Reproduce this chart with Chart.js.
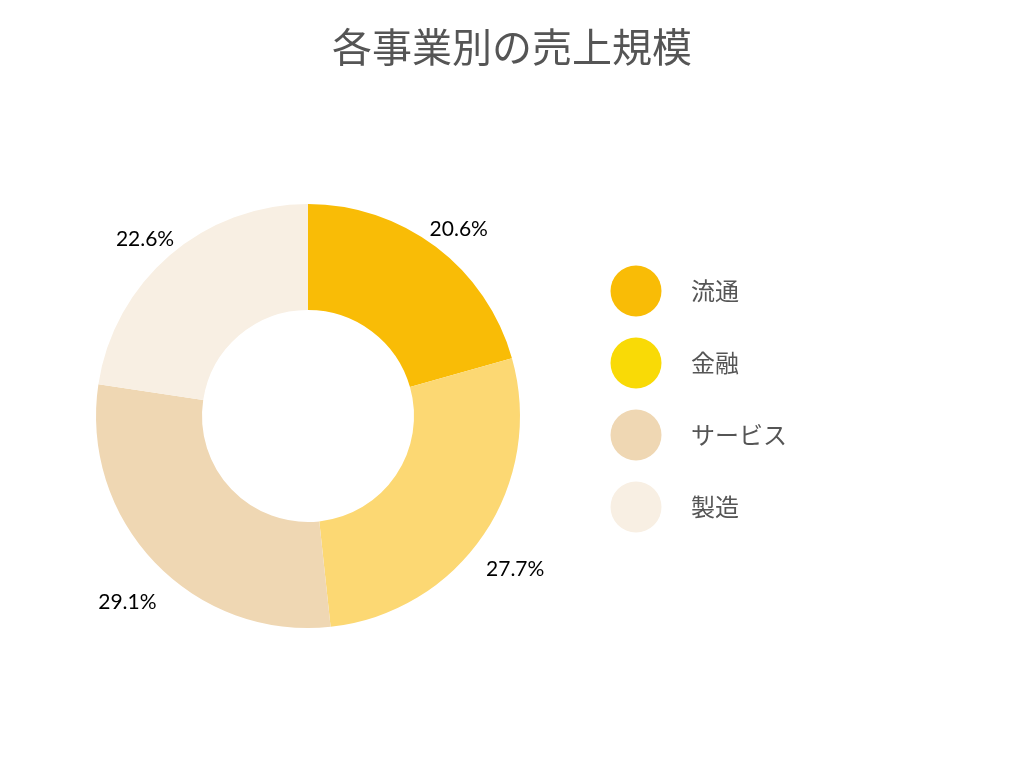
<!DOCTYPE html>
<html>
<head>
<meta charset="utf-8">
<script src="https://cdn.jsdelivr.net/npm/chart.js@4"></script>
<style>
  html, body { margin: 0; padding: 0; background: #fff; }
  #wrap { width: 1024px; height: 768px; }
</style>
</head>
<body>
<div id="wrap"><canvas id="chart" width="1024" height="768"></canvas></div>
<script>
const categories = ["流通", "金融", "サービス", "製造"];
const shares = [20.6, 27.7, 29.1, 22.6];
const sliceColors = ["#F9BC06", "#FCD873", "#EFD7B3", "#F8EFE3"];
const legendColors = ["#F9BC06", "#F9DA06", "#EFD7B3", "#F8EFE3"];
const chartTitle = "各事業別の売上規模";

const FONT = "'Noto Sans CJK JP', 'Noto Sans', sans-serif";

// title centred on the whole canvas
const pageTitle = {
  id: "pageTitle",
  afterDraw(chart) {
    const ctx = chart.ctx;
    ctx.save();
    ctx.font = "40px " + FONT;
    ctx.fillStyle = "#555";
    ctx.textAlign = "center";
    ctx.textBaseline = "middle";
    ctx.fillText(chartTitle, chart.width / 2, 47);
    ctx.restore();
  }
};

// percentage labels outside each slice
const sliceLabels = {
  id: "sliceLabels",
  afterDatasetsDraw(chart) {
    const ctx = chart.ctx;
    const meta = chart.getDatasetMeta(0);
    ctx.save();
    ctx.font = "21px Lato, sans-serif";
    ctx.fillStyle = "#000";
    ctx.textAlign = "center";
    ctx.textBaseline = "middle";
    meta.data.forEach((arc, i) => {
      const p = arc.getProps(["x", "y", "startAngle", "endAngle", "outerRadius"], true);
      const mid = (p.startAngle + p.endAngle) / 2;
      const r = p.outerRadius + 38;
      ctx.fillText(shares[i].toFixed(1) + "%", p.x + Math.cos(mid) * r, p.y + Math.sin(mid) * r + 13);
    });
    ctx.restore();
  }
};

// legend with large circles on the right
const bigLegend = {
  id: "bigLegend",
  afterDraw(chart) {
    const ctx = chart.ctx;
    ctx.save();
    ctx.font = "24px " + FONT;
    ctx.textBaseline = "middle";
    ctx.textAlign = "left";
    chart.data.labels.forEach((lab, i) => {
      const y = 291 + i * 72;
      ctx.beginPath();
      ctx.arc(636, y, 25.5, 0, Math.PI * 2);
      ctx.fillStyle = legendColors[i];
      ctx.fill();
      ctx.fillStyle = "#555";
      ctx.fillText(lab, 691, y);
    });
    ctx.restore();
  }
};

new Chart(document.getElementById("chart"), {
  type: "doughnut",
  data: {
    labels: categories,
    datasets: [{
      data: shares,
      backgroundColor: sliceColors,
      borderWidth: 0,
      hoverOffset: 0
    }]
  },
  options: {
    responsive: false,
    animation: false,
    cutout: "50%",
    layout: { padding: { left: 96, right: 504, top: 66, bottom: 2 } },
    plugins: {
      legend: { display: false },
      tooltip: { enabled: false },
      title: { display: false }
    }
  },
  plugins: [pageTitle, sliceLabels, bigLegend]
});
</script>
</body>
</html>
